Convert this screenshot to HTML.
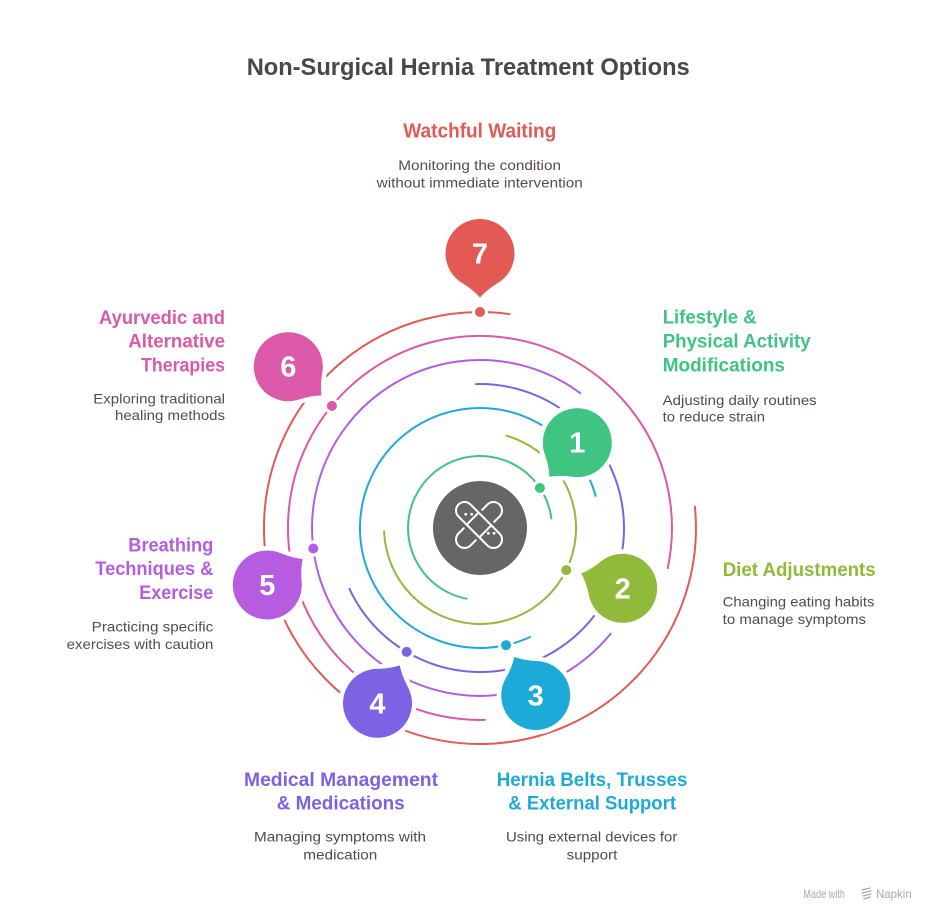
<!DOCTYPE html>
<html>
<head>
<meta charset="utf-8">
<style>
  html, body { margin:0; padding:0; background:#fff; }
  body { width:936px; height:923px; overflow:hidden; }
  svg { display:block; }
  .h { font-family:"Liberation Sans", Arial, sans-serif; font-weight:700; font-size:19px; }
  .d { font-family:"Liberation Sans", Arial, sans-serif; font-weight:400; font-size:14px; }
  .n { font-family:"Liberation Sans", Arial, sans-serif; font-weight:700; font-size:29px; fill:#fff; }
</style>
</head>
<body>
<svg width="936" height="923" viewBox="0 0 936 923" xmlns="http://www.w3.org/2000/svg">
  <defs>
    <path id="bub" d="M30.2,-16.7 Q37,-6 44,0 Q37,6 30.2,16.7 A34.5,34.5 0 1 1 30.2,-16.7 Z"/>
  </defs>

  <!-- Title -->
  <text x="246.7" y="75" class="h" style="font-size:24px" fill="#484848" textLength="443" lengthAdjust="spacingAndGlyphs">Non-Surgical Hernia Treatment Options</text>

  <!-- Rings -->
  <g fill="none" stroke-width="2" stroke-linecap="round">
    <path d="M466.6,598.7 A72,72 0 1 1 551.4,518.4" stroke="#3fc482"/>
    <path d="M506.5,435.7 A96,96 0 1 1 384.1,531.4" stroke="#8fba3a"/>
    <path d="M530.1,637.0 A120,120 0 1 1 595.6,495.9" stroke="#1eaad8"/>
    <path d="M476.0,384.1 A144,144 0 1 1 349.5,588.9" stroke="#7d63e3"/>
    <path d="M610.6,633.7 A168,168 0 1 1 580.2,393.1" stroke="#b55ce0"/>
    <path d="M485.0,719.9 A192,192 0 1 1 667.7,568.2" stroke="#dc58a8"/>
    <path d="M694.9,506.6 A216,216 0 1 1 509.3,314.0" stroke="#e35a55"/>
  </g>

  <!-- Center circle and icon -->
  <circle cx="480" cy="528" r="47" fill="#666666"/>
  <g transform="translate(479,525)" stroke="#fff" stroke-width="2" fill="none" stroke-linecap="round">
    <g transform="rotate(45)">
      <rect x="-29" y="-8.5" width="58" height="17" rx="8.5"/>
      <line x1="-9" y1="-8.5" x2="-9" y2="8.5"/>
      <line x1="9" y1="-8.5" x2="9" y2="8.5"/>
    </g>
    <g transform="rotate(-45)">
      <path d="M13,-8.5 L20.5,-8.5 A8.5,8.5 0 0 1 20.5,8.5 L13,8.5"/>
      <path d="M-13,-8.5 L-20.5,-8.5 A8.5,8.5 0 0 0 -20.5,8.5 L-13,8.5"/>
    </g>
  </g>
  <g fill="#fff">
    <circle cx="465.7" cy="514.3" r="1.4"/>
    <circle cx="471.7" cy="514.3" r="1.4"/>
    <circle cx="488.3" cy="533.3" r="1.4"/>
    <circle cx="494" cy="533.3" r="1.4"/>
  </g>

  <!-- Bubbles -->
  <g stroke="#fff" stroke-width="9" stroke-linejoin="round" paint-order="stroke">
    <use href="#bub" transform="translate(480,253.5) rotate(90)" fill="#e35a55"/>
    <use href="#bub" transform="translate(577.3,442.7) rotate(129.3)" fill="#3fc482"/>
    <use href="#bub" transform="translate(622.7,588.3) rotate(199.8)" fill="#8fba3a"/>
    <use href="#bub" transform="translate(535.7,695.5) rotate(-119)" fill="#1eaad8"/>
    <use href="#bub" transform="translate(377.5,703.3) rotate(-59.6)" fill="#7d63e3"/>
    <use href="#bub" transform="translate(267.3,585) rotate(-36.3)" fill="#b55ce0"/>
    <use href="#bub" transform="translate(288.3,366.7) rotate(40.8)" fill="#dc58a8"/>
  </g>

  <!-- Dots -->
  <g stroke="#fff" stroke-width="6" paint-order="stroke">
    <circle cx="539.9" cy="488" r="5" fill="#3fc482"/>
    <circle cx="566.3" cy="570.1" r="5" fill="#8fba3a"/>
    <circle cx="506" cy="645.2" r="5" fill="#1eaad8"/>
    <circle cx="406.7" cy="651.9" r="5" fill="#7d63e3"/>
    <circle cx="313.3" cy="548.5" r="5" fill="#b55ce0"/>
    <circle cx="331.9" cy="405.9" r="5" fill="#dc58a8"/>
    <circle cx="480" cy="312" r="5" fill="#e35a55"/>
  </g>

  <!-- Numbers -->
  <g text-anchor="middle">
    <text x="480" y="263.5" class="n">7</text>
    <text x="577.3" y="452.7" class="n">1</text>
    <text x="622.7" y="598.3" class="n">2</text>
    <text x="535.7" y="705.5" class="n">3</text>
    <text x="377.5" y="713.3" class="n">4</text>
    <text x="267.3" y="595" class="n">5</text>
    <text x="288.3" y="376.7" class="n">6</text>
  </g>

  <!-- 7 Watchful Waiting -->
  <text x="403.3" y="137.7" class="h" style="font-size:20px" fill="#e35a55" textLength="153" lengthAdjust="spacingAndGlyphs">Watchful Waiting</text>
  <text x="398.3" y="170" class="d" fill="#5a4a4a" textLength="162.7" lengthAdjust="spacingAndGlyphs">Monitoring the condition</text>
  <text x="376.7" y="187.7" class="d" fill="#5a4a4a" textLength="206" lengthAdjust="spacingAndGlyphs">without immediate intervention</text>

  <!-- 1 Lifestyle -->
  <text x="662.7" y="323.3" class="h" fill="#3fc482" textLength="94" lengthAdjust="spacingAndGlyphs">Lifestyle &amp;</text>
  <text x="662.7" y="347.7" class="h" fill="#3fc482" textLength="148" lengthAdjust="spacingAndGlyphs">Physical Activity</text>
  <text x="662.7" y="371.7" class="h" fill="#3fc482" textLength="122.3" lengthAdjust="spacingAndGlyphs">Modifications</text>
  <text x="662.7" y="405" class="d" fill="#4a504c" textLength="154" lengthAdjust="spacingAndGlyphs">Adjusting daily routines</text>
  <text x="662.7" y="421.7" class="d" fill="#4a504c" textLength="102.3" lengthAdjust="spacingAndGlyphs">to reduce strain</text>

  <!-- 6 Ayurvedic -->
  <text x="99" y="324" class="h" fill="#dc58a8" textLength="126" lengthAdjust="spacingAndGlyphs">Ayurvedic and</text>
  <text x="128.3" y="347.7" class="h" fill="#dc58a8" textLength="96.7" lengthAdjust="spacingAndGlyphs">Alternative</text>
  <text x="141" y="371.7" class="h" fill="#dc58a8" textLength="84" lengthAdjust="spacingAndGlyphs">Therapies</text>
  <text x="93.3" y="403.3" class="d" fill="#574a55" textLength="131.7" lengthAdjust="spacingAndGlyphs">Exploring traditional</text>
  <text x="115" y="420" class="d" fill="#574a55" textLength="110" lengthAdjust="spacingAndGlyphs">healing methods</text>

  <!-- 5 Breathing -->
  <text x="128.3" y="551.7" class="h" fill="#b55ce0" textLength="85" lengthAdjust="spacingAndGlyphs">Breathing</text>
  <text x="95.3" y="575" class="h" fill="#b55ce0" textLength="118" lengthAdjust="spacingAndGlyphs">Techniques &amp;</text>
  <text x="139.3" y="599" class="h" fill="#b55ce0" textLength="74" lengthAdjust="spacingAndGlyphs">Exercise</text>
  <text x="91.7" y="631.7" class="d" fill="#524a58" textLength="121.6" lengthAdjust="spacingAndGlyphs">Practicing specific</text>
  <text x="66.7" y="649" class="d" fill="#524a58" textLength="146.6" lengthAdjust="spacingAndGlyphs">exercises with caution</text>

  <!-- 2 Diet -->
  <text x="722.7" y="576" class="h" fill="#8fba3a" textLength="153" lengthAdjust="spacingAndGlyphs">Diet Adjustments</text>
  <text x="722.7" y="606.7" class="d" fill="#4d5049" textLength="151.7" lengthAdjust="spacingAndGlyphs">Changing eating habits</text>
  <text x="722.7" y="624" class="d" fill="#4d5049" textLength="143.3" lengthAdjust="spacingAndGlyphs">to manage symptoms</text>

  <!-- 4 Medical -->
  <text x="244" y="786" class="h" fill="#7d63e3" textLength="194" lengthAdjust="spacingAndGlyphs">Medical Management</text>
  <text x="276.7" y="809.3" class="h" fill="#7d63e3" textLength="128" lengthAdjust="spacingAndGlyphs">&amp; Medications</text>
  <text x="254" y="841.7" class="d" fill="#4c4a58" textLength="172" lengthAdjust="spacingAndGlyphs">Managing symptoms with</text>
  <text x="303.3" y="859.3" class="d" fill="#4c4a58" textLength="74" lengthAdjust="spacingAndGlyphs">medication</text>

  <!-- 3 Hernia Belts -->
  <text x="496.7" y="786" class="h" fill="#1eaad8" textLength="190.7" lengthAdjust="spacingAndGlyphs">Hernia Belts, Trusses</text>
  <text x="508.3" y="809.3" class="h" fill="#1eaad8" textLength="167.7" lengthAdjust="spacingAndGlyphs">&amp; External Support</text>
  <text x="506" y="841.7" class="d" fill="#474e55" textLength="171.3" lengthAdjust="spacingAndGlyphs">Using external devices for</text>
  <text x="566.7" y="859.3" class="d" fill="#474e55" textLength="50.6" lengthAdjust="spacingAndGlyphs">support</text>

  <!-- Footer -->
  <text x="803.3" y="898" class="d" style="font-size:12px" fill="#aaaaaa" textLength="41.7" lengthAdjust="spacingAndGlyphs">Made with</text>
  <g stroke="#aaaaaa" stroke-width="1.3" fill="none" stroke-linecap="round">
    <path d="M862,890 L870,888 M862,893 L871,891 M863,896 L871,894 M864,899 L870,897"/>
  </g>
  <text x="876" y="898" class="d" style="font-size:12px" fill="#aaaaaa" textLength="35.7" lengthAdjust="spacingAndGlyphs">Napkin</text>
</svg>
</body>
</html>
